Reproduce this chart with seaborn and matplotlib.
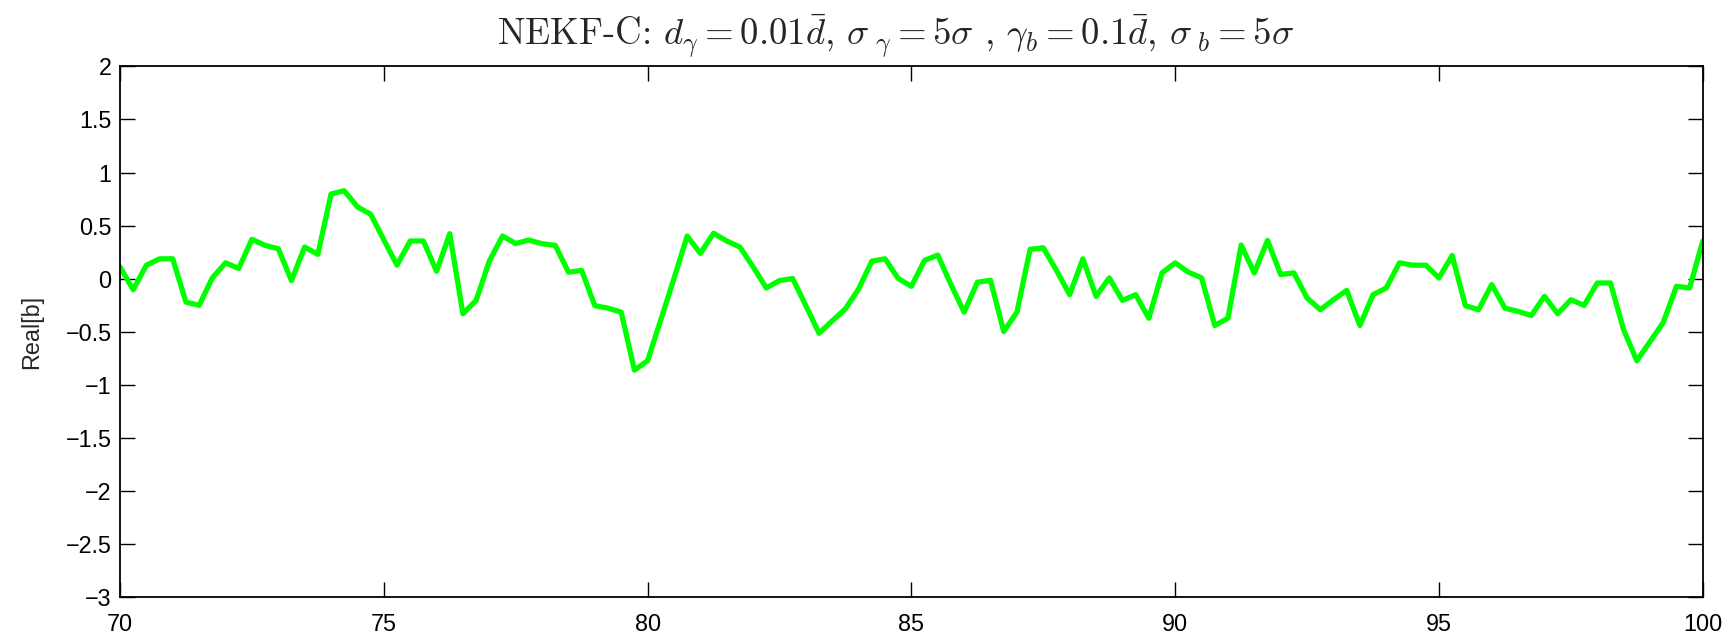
import numpy as np
import pandas as pd
import matplotlib
matplotlib.use('Agg')
import matplotlib.pyplot as plt
import seaborn as sns
from matplotlib.ticker import FuncFormatter, MultipleLocator

### DATA ###
# time samples every 0.25 from 70 to 100
t = np.arange(70, 100.001, 0.25)
real_b = [
    0.11, -0.105, 0.126, 0.186, 0.186, -0.222, -0.253, 0.006, 0.148, 0.095,
    0.37, 0.313, 0.281, -0.019, 0.297, 0.228, 0.797, 0.828, 0.676, 0.607,
    0.366, 0.126, 0.354, 0.354, 0.069, 0.423, -0.332, -0.206, 0.164, 0.401,
    0.33, 0.363, 0.328, 0.313, 0.06, 0.076, -0.256, -0.279, -0.317, -0.864,
    -0.775, -0.39, 0.0, 0.401, 0.237, 0.427, 0.354, 0.297, 0.11, -0.089,
    -0.019, 0.0, -0.256, -0.516, -0.399, -0.285, -0.098, 0.164, 0.186, 0.0,
    -0.073, 0.171, 0.221, -0.057, -0.317, -0.035, -0.016, -0.5, -0.317, 0.275,
    0.29, 0.076, -0.152, 0.186, -0.168, 0.006, -0.206, -0.152, -0.374, 0.053,
    0.148, 0.06, 0.006, -0.443, -0.374, 0.316, 0.053, 0.36, 0.038, 0.053,
    -0.184, -0.294, -0.2, -0.111, -0.443, -0.152, -0.089, 0.148, 0.126, 0.126,
    0.006, 0.218, -0.256, -0.294, -0.057, -0.279, -0.31, -0.348, -0.168, -0.332,
    -0.2, -0.253, -0.042, -0.042, -0.484, -0.775, -0.595, -0.415, -0.073, -0.089,
    0.354,
]
df = pd.DataFrame({'t': t, 'real_b': real_b})

title_txt = (r'NEKF-C: $d_\gamma = 0.01\bar{d}$, $\sigma_{\ \gamma} = 5\sigma$ , '
             r'$\gamma_b = 0.1\bar{d}$, $\sigma_{\ b} = 5\sigma$')

### STYLE ###
sns.set_style('ticks')
plt.rcParams['font.family'] = ['Liberation Sans', 'DejaVu Sans']
plt.rcParams['mathtext.fontset'] = 'cm'
plt.rcParams['axes.formatter.use_mathtext'] = False

fig = plt.figure(figsize=(17.34, 6.33), dpi=100)
ax = fig.add_axes([0.0692, 0.0574, 0.9128, 0.8376])

sns.lineplot(data=df, x='t', y='real_b', ax=ax, color='#00ff00', linewidth=3.8)

ax.set_xlim(70, 100)
ax.set_ylim(-3, 2)
ax.xaxis.set_major_locator(MultipleLocator(5))
ax.yaxis.set_major_locator(MultipleLocator(0.5))
ax.yaxis.set_major_formatter(FuncFormatter(lambda v, p: ('%g' % v).replace('-', '\u2212')))
ax.tick_params(direction='in', length=11, width=1, top=True, right=True,
               labelsize=16.8, colors='black')
ax.tick_params(axis='y', pad=6)
ax.tick_params(axis='x', pad=12)
for s in ax.spines.values():
    s.set_visible(True)
    s.set_color('black')
    s.set_linewidth(1.3)

ax.set_xlabel('')
ax.set_ylabel('Real[b]', fontsize=16.8, labelpad=16)
ax.set_title(title_txt, fontsize=26.5, family=['cmr10', 'DejaVu Serif'], pad=15, x=0.49)

fig.savefig('out.png', dpi=100)
